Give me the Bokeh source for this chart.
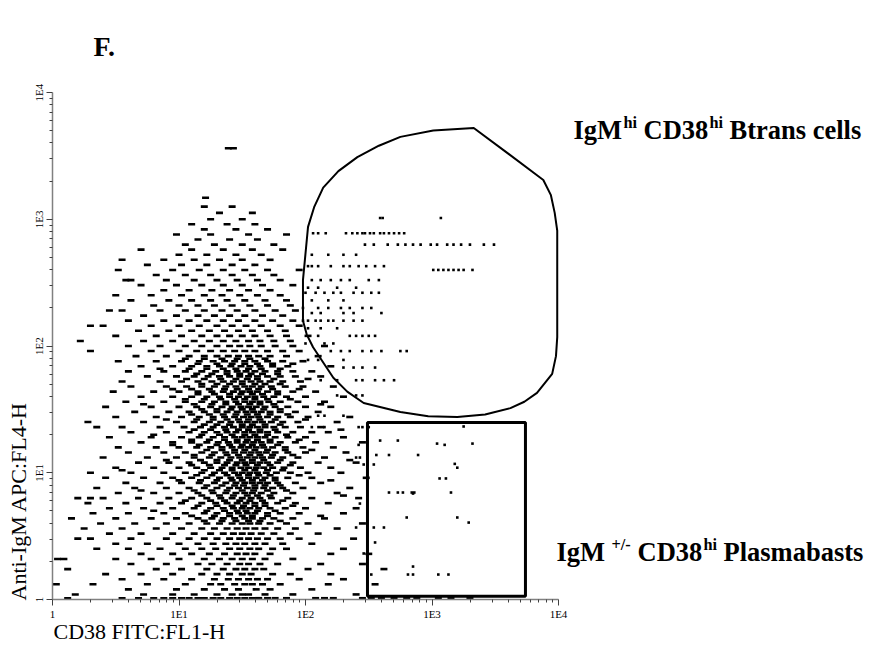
import math
from bokeh.plotting import figure
from bokeh.models import Range1d, FixedTicker, Label, LogAxis
from bokeh.embed import file_html
from bokeh.resources import INLINE

# ---------------- texts / ticks ----------------
tick_values = [1, 10, 100, 1000, 10000]
tick_labels = ["1", "1E1", "1E2", "1E3", "1E4"]
x_title = "CD38 FITC:FL1-H"
y_title = "Anti-IgM APC:FL4-H"
panel_tag = "F."

# ---------------- events (log10 units) ----------------
# each row: IgM level (log10) and the CD38 values (log10) of events on that row
event_igm_log = [
    0.01, 0.04, 0.08, 0.12, 0.16, 0.20, 0.24, 0.28, 0.32, 0.36, 0.40, 0.44, 0.48, 0.52, 0.56, 0.60,
    0.64, 0.68, 0.72, 0.76, 0.80, 0.84, 0.88, 0.92, 0.96, 1.00, 1.04, 1.08, 1.12, 1.16, 1.20, 1.24,
    1.28, 1.32, 1.36, 1.40, 1.44, 1.48, 1.52, 1.56, 1.60, 1.64, 1.68, 1.72, 1.76, 1.80, 1.84, 1.88,
    1.92, 1.96, 2.00, 2.04, 2.08, 2.12, 2.16, 2.20, 2.24, 2.28, 2.32, 2.36, 2.40, 2.44, 2.48, 2.52,
    2.56, 2.60, 2.64, 2.68, 2.72, 2.76, 2.80, 2.84, 2.88, 2.92, 2.96, 3.00, 3.05, 3.10, 3.17, 3.56,
    0.62, 0.66, 0.70, 0.74, 0.78, 0.82, 0.86, 0.90, 0.94, 0.98, 1.02, 1.06, 1.10, 1.14, 1.18, 1.22,
    1.26, 1.30, 1.34, 1.38, 1.42, 1.46, 1.50, 1.54, 1.58, 1.62, 1.66, 1.70, 1.74, 1.78, 1.82, 1.86,
    1.90,
]
event_cd38_log = [
    [0.12, 0.55, 0.68, 0.8, 0.88, 0.95, 1.02, 1.08, 1.15, 1.2, 1.27, 1.33, 1.4, 1.46, 1.52, 1.58, 1.63, 1.7, 1.76, 1.85, 2.08, 2.15, 2.22, 2.45, 2.52, 2.6, 2.7, 2.8, 2.88, 3.05, 3.15, 3.3],
    [0.18, 0.72, 0.95, 1.12, 1.3, 1.42, 1.5, 1.55, 1.68, 1.9, 2.4],
    [0.6, 0.98, 1.2, 1.36, 1.47, 1.61, 1.72, 2.05],
    [0.03, 0.32, 0.75, 1.05, 1.25, 1.33, 1.44, 1.52, 1.58, 1.66, 1.8, 2.18, 2.55],
    [0.55, 0.88, 1.1, 1.28, 1.39, 1.47, 1.55, 1.62, 1.7, 1.95, 2.3],
    [0.42, 0.7, 0.95, 1.18, 1.3, 1.4, 1.5, 1.57, 1.74, 1.88, 2.2],
    [0.12, 0.82, 1.02, 1.22, 1.35, 1.45, 1.52, 1.6, 1.67, 2.02, 2.62],
    [0.62, 0.9, 1.15, 1.26, 1.38, 1.48, 1.55, 1.64, 1.78, 2.12, 2.45],
    [0.04, 0.09, 0.5, 0.78, 1.0, 1.2, 1.32, 1.42, 1.5, 1.58, 1.68, 1.9],
    [0.7, 0.95, 1.1, 1.24, 1.36, 1.46, 1.53, 1.6, 1.72, 2.2, 2.5],
    [0.35, 0.6, 0.85, 1.05, 1.18, 1.29, 1.4, 1.48, 1.56, 1.63, 1.74, 1.85, 2.3],
    [0.5, 0.75, 1.0, 1.15, 1.27, 1.37, 1.45, 1.52, 1.6, 1.68, 1.82, 2.05],
    [0.2, 0.3, 0.62, 0.9, 1.08, 1.2, 1.3, 1.4, 1.48, 1.55, 1.62, 1.7, 1.8, 1.95, 2.38],
    [0.45, 0.7, 0.95, 1.12, 1.25, 1.35, 1.43, 1.5, 1.57, 1.65, 1.75, 1.88, 2.1],
    [0.25, 0.55, 0.82, 1.02, 1.18, 1.28, 1.38, 1.46, 1.53, 1.6, 1.68, 1.78, 1.92, 2.25],
    [0.38, 0.65, 0.9, 1.08, 1.22, 1.32, 1.42, 1.5, 1.56, 1.63, 1.72, 1.85, 2.02, 2.45],
    [0.15, 0.5, 0.78, 0.98, 1.15, 1.26, 1.35, 1.44, 1.52, 1.58, 1.66, 1.75, 1.9, 2.15],
    [0.32, 0.6, 0.88, 1.05, 1.2, 1.3, 1.4, 1.47, 1.54, 1.6, 1.7, 1.8, 1.95, 2.3],
    [0.45, 0.72, 0.95, 1.12, 1.25, 1.35, 1.43, 1.5, 1.56, 1.63, 1.72, 1.84, 2.0, 2.4],
    [0.28, 0.58, 0.85, 1.02, 1.18, 1.29, 1.38, 1.46, 1.53, 1.6, 1.68, 1.78, 1.92, 2.18],
    [0.2, 0.3, 0.4, 0.68, 0.92, 1.1, 1.22, 1.33, 1.42, 1.5, 1.57, 1.64, 1.73, 1.86, 2.05, 2.42],
    [0.52, 0.8, 1.0, 1.15, 1.27, 1.37, 1.45, 1.52, 1.58, 1.65, 1.75, 1.9, 2.25],
    [0.35, 0.65, 0.9, 1.08, 1.2, 1.3, 1.4, 1.47, 1.54, 1.6, 1.67, 1.74, 1.82, 1.98, 2.35],
    [0.58, 0.85, 1.02, 1.16, 1.28, 1.37, 1.45, 1.52, 1.58, 1.64, 1.7, 1.78, 1.92, 2.12],
    [0.42, 0.72, 0.95, 1.1, 1.22, 1.32, 1.41, 1.48, 1.55, 1.61, 1.68, 1.76, 1.86, 2.05, 2.48],
    [0.3, 0.62, 0.88, 1.05, 1.18, 1.28, 1.36, 1.44, 1.5, 1.56, 1.62, 1.69, 1.77, 1.88, 2.02, 2.28],
    [0.5, 0.8, 1.0, 1.14, 1.25, 1.34, 1.42, 1.49, 1.55, 1.61, 1.67, 1.74, 1.83, 1.96, 2.2],
    [0.68, 0.92, 1.08, 1.2, 1.3, 1.38, 1.46, 1.52, 1.58, 1.64, 1.7, 1.78, 1.9, 2.1, 2.4],
    [0.4, 0.75, 0.98, 1.12, 1.24, 1.33, 1.41, 1.48, 1.54, 1.6, 1.66, 1.73, 1.82, 1.94, 2.15],
    [0.6, 0.88, 1.05, 1.18, 1.28, 1.37, 1.44, 1.51, 1.57, 1.63, 1.69, 1.76, 1.86, 2.0, 2.32],
    [0.52, 0.82, 1.0, 1.14, 1.25, 1.34, 1.42, 1.49, 1.55, 1.61, 1.67, 1.74, 1.84, 1.98, 2.22],
    [0.7, 0.95, 1.1, 1.22, 1.31, 1.39, 1.46, 1.53, 1.59, 1.65, 1.72, 1.8, 1.92, 2.08, 2.45],
    [0.45, 0.78, 1.02, 1.16, 1.27, 1.36, 1.44, 1.5, 1.56, 1.62, 1.68, 1.76, 1.86, 2.0, 2.3],
    [0.62, 0.9, 1.08, 1.2, 1.3, 1.38, 1.45, 1.52, 1.58, 1.64, 1.7, 1.78, 1.9, 2.05, 2.18],
    [0.35, 0.55, 0.85, 1.04, 1.17, 1.27, 1.36, 1.43, 1.5, 1.56, 1.62, 1.68, 1.75, 1.84, 1.96, 2.12],
    [0.28, 0.72, 0.98, 1.12, 1.24, 1.33, 1.41, 1.48, 1.54, 1.6, 1.66, 1.73, 1.82, 1.94, 2.25],
    [0.5, 0.82, 1.02, 1.16, 1.27, 1.36, 1.44, 1.51, 1.57, 1.63, 1.7, 1.78, 1.88, 2.02, 2.35],
    [0.65, 0.92, 1.08, 1.2, 1.3, 1.38, 1.46, 1.53, 1.59, 1.65, 1.72, 1.8, 1.92, 2.1],
    [0.42, 0.78, 1.0, 1.14, 1.25, 1.34, 1.42, 1.49, 1.55, 1.61, 1.68, 1.76, 1.86, 2.0, 2.2],
    [0.58, 0.88, 1.05, 1.18, 1.28, 1.37, 1.45, 1.52, 1.58, 1.64, 1.71, 1.8, 1.94, 2.15],
    [0.7, 0.95, 1.1, 1.22, 1.32, 1.4, 1.47, 1.54, 1.6, 1.67, 1.75, 1.85, 2.0, 2.3],
    [0.48, 0.8, 1.0, 1.15, 1.26, 1.35, 1.43, 1.5, 1.56, 1.62, 1.7, 1.78, 1.9, 2.08],
    [0.62, 0.9, 1.06, 1.18, 1.28, 1.37, 1.45, 1.52, 1.58, 1.65, 1.73, 1.84, 1.98, 2.22],
    [0.55, 0.85, 1.02, 1.15, 1.26, 1.35, 1.43, 1.5, 1.57, 1.64, 1.72, 1.82, 1.96],
    [0.75, 0.98, 1.12, 1.23, 1.32, 1.4, 1.48, 1.55, 1.62, 1.7, 1.8, 1.92, 2.12],
    [0.6, 0.88, 1.05, 1.18, 1.29, 1.38, 1.46, 1.53, 1.6, 1.68, 1.78, 1.9, 2.05],
    [0.7, 0.95, 1.1, 1.22, 1.32, 1.41, 1.49, 1.56, 1.64, 1.74, 1.86, 2.2],
    [0.52, 0.82, 1.02, 1.16, 1.27, 1.36, 1.44, 1.52, 1.6, 1.7, 1.82, 1.98],
    [0.66, 0.9, 1.08, 1.2, 1.3, 1.39, 1.47, 1.55, 1.63, 1.72, 1.85, 2.1],
    [0.3, 0.78, 1.0, 1.14, 1.25, 1.35, 1.44, 1.52, 1.6, 1.7, 1.82, 1.95],
    [0.6, 0.85, 1.05, 1.18, 1.3, 1.4, 1.48, 1.56, 1.65, 1.76, 1.9, 2.15],
    [0.22, 0.72, 0.95, 1.12, 1.24, 1.35, 1.45, 1.55, 1.64, 1.75, 1.88],
    [0.5, 0.82, 1.02, 1.18, 1.3, 1.4, 1.5, 1.6, 1.72, 1.85, 2.02],
    [0.68, 0.92, 1.1, 1.24, 1.36, 1.47, 1.58, 1.7, 1.84],
    [0.3, 0.4, 0.78, 1.0, 1.16, 1.3, 1.42, 1.53, 1.65, 1.8, 1.95],
    [0.6, 0.88, 1.08, 1.22, 1.35, 1.47, 1.6, 1.74, 1.9],
    [0.72, 0.98, 1.15, 1.28, 1.4, 1.52, 1.66, 1.82],
    [0.45, 0.55, 0.85, 1.05, 1.2, 1.34, 1.46, 1.6, 1.76, 1.92],
    [0.8, 1.0, 1.15, 1.28, 1.42, 1.56, 1.7, 1.88],
    [0.62, 0.92, 1.1, 1.25, 1.38, 1.52, 1.68, 1.85],
    [0.5, 0.78, 1.02, 1.2, 1.34, 1.48, 1.62, 1.8],
    [0.88, 1.08, 1.26, 1.4, 1.55, 1.72],
    [0.7, 0.98, 1.18, 1.35, 1.5, 1.66, 1.9],
    [0.58, 0.62, 0.9, 1.12, 1.3, 1.46, 1.62, 1.8],
    [0.82, 1.05, 1.25, 1.42, 1.58, 1.75],
    [0.52, 0.95, 1.16, 1.35, 1.52, 1.7, 1.95],
    [0.75, 1.02, 1.22, 1.42, 1.6],
    [0.55, 0.88, 1.12, 1.32, 1.5, 1.72],
    [1.0, 1.22, 1.45, 1.65],
    [0.7, 1.1, 1.35, 1.58, 1.82],
    [1.05, 1.28, 1.5, 1.75],
    [1.15, 1.4, 1.62],
    [0.98, 1.25, 1.55, 1.85],
    [1.2, 1.45, 1.7],
    [1.1, 1.38, 1.6],
    [1.25, 1.5],
    [1.32, 1.58],
    [1.2, 1.42],
    [1.21],
    [1.39, 1.43],
    [1.2, 1.34, 1.45, 1.55, 1.64, 1.8],
    [1.1, 1.28, 1.4, 1.5, 1.58, 1.7, 2.12],
    [0.8, 1.22, 1.36, 1.46, 1.53, 1.62, 1.76],
    [1.15, 1.3, 1.42, 1.51, 1.6, 1.68, 1.9],
    [1.05, 1.25, 1.36, 1.48, 1.56, 1.66, 1.82],
    [1.18, 1.32, 1.43, 1.54, 1.62, 1.72, 2.3],
    [0.7, 1.12, 1.26, 1.38, 1.5, 1.59, 1.7, 1.85],
    [1.22, 1.34, 1.44, 1.51, 1.6, 1.68, 1.8],
    [1.0, 1.17, 1.3, 1.42, 1.5, 1.58, 1.66, 1.76, 2.2],
    [1.14, 1.26, 1.38, 1.47, 1.55, 1.63, 1.72, 1.95],
    [0.55, 1.2, 1.32, 1.42, 1.52, 1.6, 1.7, 1.82],
    [1.1, 1.24, 1.36, 1.45, 1.53, 1.62, 1.72, 1.88],
    [0.9, 1.17, 1.3, 1.4, 1.5, 1.58, 1.67, 1.8, 2.35],
    [1.12, 1.26, 1.38, 1.47, 1.56, 1.64, 1.74, 1.9],
    [1.22, 1.34, 1.44, 1.52, 1.6, 1.7, 1.84, 2.05],
    [0.95, 1.16, 1.3, 1.4, 1.5, 1.58, 1.66, 1.78],
    [1.1, 1.24, 1.36, 1.46, 1.54, 1.62, 1.72, 1.95],
    [0.8, 1.18, 1.32, 1.42, 1.52, 1.6, 1.7, 1.85],
    [1.12, 1.25, 1.37, 1.47, 1.55, 1.64, 1.76, 2.28],
    [1.2, 1.3, 1.4, 1.5, 1.58, 1.68, 1.8],
    [0.9, 1.14, 1.27, 1.38, 1.47, 1.55, 1.64, 1.76, 2.0],
    [1.1, 1.24, 1.35, 1.45, 1.54, 1.62, 1.72, 1.86],
    [1.18, 1.3, 1.41, 1.5, 1.58, 1.67, 1.8],
    [0.72, 1.12, 1.26, 1.37, 1.47, 1.56, 1.64, 1.75, 2.12],
    [1.05, 1.2, 1.33, 1.44, 1.52, 1.6, 1.7, 1.88],
    [1.15, 1.28, 1.4, 1.49, 1.58, 1.66, 1.78],
    [0.95, 1.1, 1.24, 1.36, 1.46, 1.55, 1.63, 1.74, 1.95],
    [1.18, 1.3, 1.4, 1.5, 1.6, 1.68, 1.8],
    [1.06, 1.2, 1.33, 1.45, 1.54, 1.62, 1.75, 2.02],
    [1.14, 1.26, 1.38, 1.48, 1.57, 1.66, 1.78],
    [0.85, 1.08, 1.22, 1.35, 1.45, 1.55, 1.65, 1.8],
    [1.15, 1.3, 1.42, 1.52, 1.62, 1.74, 1.9],
    [1.05, 1.2, 1.34, 1.46, 1.56, 1.68],
]

# events inside / around the Btrans gate (log10 units)
btrans_igm_log = [3.01, 2.89, 2.80, 2.72, 2.63, 2.60, 2.52, 2.46, 2.42, 2.36, 2.30, 2.26, 2.20,
                  2.14, 2.08, 2.02, 1.96, 1.89, 1.83, 1.73, 1.61, 1.45, 1.36]
btrans_cd38_log = [
    [2.59, 2.61, 3.07],
    [2.06, 2.1, 2.16, 2.32, 2.37, 2.41, 2.45, 2.47, 2.51, 2.54, 2.59, 2.62, 2.66, 2.70, 2.74, 2.78],
    [2.47, 2.54, 2.65, 2.73, 2.79, 2.85, 2.91, 2.99, 3.04, 3.12, 3.17, 3.23, 3.30, 3.41, 3.49],
    [2.05, 2.18, 2.3, 2.4],
    [2.02, 2.05, 2.1, 2.2, 2.3, 2.35, 2.42, 2.48, 2.55, 2.62],
    [3.01, 3.05, 3.09, 3.13, 3.17, 3.21, 3.25, 3.32],
    [2.05, 2.12, 2.2, 2.28, 2.35, 2.5, 2.58],
    [2.02, 2.1, 2.25, 2.4],
    [2.0, 2.08, 2.15, 2.22, 2.28, 2.38, 2.45, 2.52, 2.58],
    [2.05, 2.18, 2.3],
    [1.98, 2.1, 2.18, 2.28, 2.35, 2.45, 2.52],
    [2.05, 2.12, 2.3, 2.38, 2.6],
    [1.98, 2.02, 2.08, 2.12, 2.18, 2.22, 2.3, 2.38, 2.45],
    [2.02, 2.12, 2.25],
    [2.1, 2.35, 2.4, 2.45, 2.5, 2.55],
    [2.0, 2.15, 2.22],
    [2.2, 2.28, 2.35, 2.45, 2.52, 2.6, 2.75, 2.8],
    [2.02, 2.1, 2.3],
    [2.3, 2.38, 2.45, 2.55],
    [2.12, 2.25, 2.4, 2.45, 2.55, 2.62, 2.7],
    [2.25, 2.4, 2.45],
    [2.1, 2.15, 2.3],
    [2.05, 2.15, 2.45, 2.5],
]

# events in / next to the plasmablast box (log10 CD38, log10 IgM)
pb_cd38_log = [3.25, 2.59, 2.73, 3.04, 3.10, 3.32, 2.56, 2.66, 2.89, 3.18, 3.20, 2.54, 3.06, 3.11,
               2.66, 2.73, 2.77, 2.84, 2.85, 2.86, 3.15, 2.80, 3.20, 3.29, 2.54, 2.62, 2.55, 2.52,
               2.81, 2.85, 2.85, 3.05, 3.13, 2.42, 2.42, 2.40, 2.43, 2.46, 2.43, 2.40, 2.46]
pb_igm_log = [1.365, 1.254, 1.254, 1.23, 1.22, 1.23, 1.14, 1.14, 1.14, 1.07, 1.04, 1.065, 0.955, 0.955,
              0.844, 0.844, 0.844, 0.844, 0.836, 0.844, 0.844, 0.647, 0.647, 0.607, 0.568, 0.568, 0.45, 0.197,
              0.197, 0.197, 0.26, 0.197, 0.197, 1.36, 1.22, 1.12, 1.12, 1.065, 0.757, 0.568, 0.363]

# Btrans gate outline (log10 CD38, log10 IgM)
btrans_gate_cd38_log = [3.33, 3.60, 3.88, 3.94, 3.97, 3.99, 3.99, 3.98, 3.95, 3.83, 3.73, 3.62,
                        3.42, 3.20, 2.97, 2.75, 2.46, 2.33, 2.22, 2.06, 2.01, 1.98, 1.98, 2.02,
                        2.07, 2.14, 2.26, 2.41, 2.58, 2.75, 3.01]
btrans_gate_igm_log = [3.72, 3.52, 3.31, 3.19, 3.05, 2.91, 2.07, 1.92, 1.78, 1.63, 1.56, 1.51,
                       1.46, 1.44, 1.445, 1.48, 1.55, 1.64, 1.75, 1.99, 2.09, 2.20, 2.52, 2.94,
                       3.10, 3.25, 3.38, 3.49, 3.58, 3.65, 3.70]

# plasmablast rectangular gate (linear units)
pb_gate_cd38 = [309, 5480]
pb_gate_igm = [1.06, 24.9]

# ---------------- build ----------------
xs, ys = [], []
for yl, row in zip(event_igm_log, event_cd38_log):
    for xl in row:
        xs.append(10 ** xl); ys.append(10 ** yl)
gx, gy = [], []
for yl, row in zip(btrans_igm_log, btrans_cd38_log):
    for xl in row:
        gx.append(10 ** xl); gy.append(10 ** yl)
for xl, yl in zip(pb_cd38_log, pb_igm_log):
    gx.append(10 ** xl); gy.append(10 ** yl)

W, H = 869, 649
AX_L, AX_R = 52, 558      # canvas px of 1 and 1E4 on x
AX_B, AX_T = 599, 92      # canvas px of 1 and 1E4 on y
dx = (AX_R - AX_L) / 4.0
dy = (AX_B - AX_T) / 4.0
x_lo, x_hi = 10 ** (-AX_L / dx), 10 ** ((W - AX_L) / dx)
y_lo, y_hi = 10 ** (-(H - AX_B) / dy), 10 ** (AX_B / dy)

p = figure(width=W, height=H, x_axis_type="log", y_axis_type="log",
           x_axis_location=None, y_axis_location=None, title=None,
           x_range=Range1d(x_lo, x_hi), y_range=Range1d(y_lo, y_hi),
           output_backend="svg", toolbar_location=None, min_border=0)
p.grid.visible = False
p.outline_line_color = None
p.background_fill_color = "white"
p.border_fill_color = "white"

minor = [k * 10 ** d for d in range(4) for k in range(2, 10)]


def make_axis():
    ax = LogAxis(fixed_location=1, bounds=(1, 10000))
    ax.ticker = FixedTicker(ticks=tick_values, minor_ticks=minor)
    ax.major_label_overrides = {v: l for v, l in zip(tick_values, tick_labels)}
    ax.axis_line_color = "#808080"
    ax.axis_line_width = 1.5
    ax.major_tick_line_color = "#404040"
    ax.minor_tick_line_color = "#404040"
    ax.major_tick_in = 0
    ax.major_tick_out = 6
    ax.minor_tick_in = 0
    ax.minor_tick_out = 3
    ax.major_label_text_font = "Liberation Serif"
    ax.major_label_text_font_size = "11px"
    ax.major_label_text_color = "black"
    ax.major_label_standoff = 2
    return ax


xax = make_axis()
yax = make_axis()
yax.major_label_orientation = "vertical"
p.add_layout(xax, "below")
p.add_layout(yax, "left")

p.scatter(xs, ys, marker="dash", size=7, line_width=2.6, line_color="black")
p.scatter(gx, gy, marker="square", size=2.6, line_color=None, fill_color="black")

p.patch([10 ** v for v in btrans_gate_cd38_log], [10 ** v for v in btrans_gate_igm_log],
        fill_color=None, line_color="black", line_width=2)
p.quad(left=[pb_gate_cd38[0]], right=[pb_gate_cd38[1]], bottom=[pb_gate_igm[0]], top=[pb_gate_igm[1]],
       fill_color=None, line_color="black", line_width=3)

SHIFT = 0.31  # em offset between requested and drawn alphabetic baseline


def lab(text, cx, cy, size, bold=False, angle=0.0):
    if angle:
        cx = cx - SHIFT * size
    else:
        cy = cy - SHIFT * size
    p.add_layout(Label(x=cx, y=H - cy, x_units="screen", y_units="screen", text=text,
                       text_font="Liberation Serif", text_font_size=f"{size}px",
                       text_font_style="bold" if bold else "normal", text_color="black",
                       text_baseline="alphabetic", text_align="left", angle=angle))


lab(panel_tag, 93, 55, 28, bold=True)
lab(x_title, 53, 638, 22)
lab(y_title, 25, 600, 22, angle=math.pi / 2)

# annotation 1 : IgM^hi CD38^hi Btrans cells
B1, S1 = 138, 127
lab("IgM", 573, B1, 26.5, True)
lab("hi", 623, S1, 16.3, True)
lab("CD38", 643, B1, 26.5, True)
lab("hi", 709, S1, 16.3, True)
lab("Btrans cells", 729, B1, 26.5, True)

# annotation 2 : IgM^+/- CD38^hi Plasmabasts
B2, S2 = 560, 549
lab("IgM", 556, B2, 26.5, True)
lab("+/-", 611, S2, 16.3, True)
lab("CD38", 637, B2, 26.5, True)
lab("hi", 703, S2, 16.3, True)
lab("Plasmabasts", 723, B2, 26.5, True)

open("out.html", "w").write(file_html(p, INLINE))
